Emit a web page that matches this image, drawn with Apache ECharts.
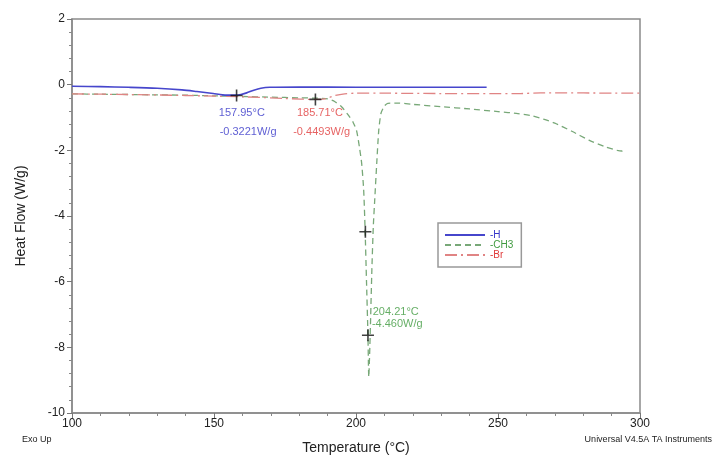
<!DOCTYPE html>
<html><head><meta charset="utf-8">
<script src="https://cdn.jsdelivr.net/npm/echarts@6/dist/echarts.min.js"></script>
<style>html,body{margin:0;padding:0;background:#fff}#c{width:717px;height:470px}</style>
</head><body><div id="c"></div>
<script>
// Data (temperature °C, heat flow W/g)
const seriesNames = ['-H', '-CH3', '-Br'];
const hData = [[100,-0.05],[110,-0.06],[120,-0.08],[130,-0.11],[138.7,-0.16],[144,-0.21],[149.7,-0.27],[153,-0.31],[157.4,-0.32],[159.5,-0.3],[161.5,-0.25],[164,-0.17],[166.5,-0.11],[169.7,-0.08],[180,-0.07],[200,-0.08],[220,-0.08],[246,-0.08]];
const ch3Data = [[100,-0.28],[110,-0.29],[120,-0.3],[130,-0.31],[140,-0.32],[150,-0.34],[160,-0.36],[170,-0.38],[180,-0.4],[186,-0.41],[190,-0.43],[192.6,-0.52],[195,-0.68],[197.5,-0.95],[199,-1.15],[200.2,-1.4],[201.2,-1.9],[202,-2.4],[202.7,-3.2],[203.2,-4.4],[203.7,-6.0],[204.2,-7.6],[204.5,-8.9],[205,-7.6],[205.6,-5.6],[206.1,-4.3],[206.6,-3.5],[207.3,-2.4],[208,-1.4],[208.8,-0.87],[210,-0.65],[211.2,-0.57],[215,-0.56],[220,-0.6],[230,-0.67],[240,-0.74],[250,-0.82],[257,-0.88],[262,-0.95],[266,-1.05],[270,-1.17],[276,-1.42],[282,-1.69],[288,-1.9],[292,-2.0],[293.6,-2.02],[294.5,-1.98]];
const brData = [[100,-0.28],[120,-0.3],[140,-0.33],[160,-0.37],[175,-0.42],[185.7,-0.45],[189,-0.43],[192.7,-0.33],[196,-0.28],[200,-0.26],[210,-0.26],[230,-0.27],[258,-0.27],[265,-0.25],[300,-0.26]];
const crossPoints = [[157.95,-0.33],[185.71,-0.4493],[203.3,-4.48],[204.21,-7.63]];
const yTicks = [-10,-8,-6,-4,-2,0,2];
const xTicks = [100,150,200,250,300];
// annotations: [x, y, text, colorIndex, align]
const annotations = [
  [159.8,-0.87,'157.95°C',0,'center'],
  [162,-1.43,'-0.3221W/g',0,'center'],
  [187.3,-0.87,'185.71°C',2,'center'],
  [187.9,-1.43,'-0.4493W/g',2,'center'],
  [205.9,-6.91,'204.21°C',1,'left'],
  [205.6,-7.29,'-4.460W/g',1,'left']
];
const lineColors = ['#4646cc','#78a878','#e08484'];
const textColors = ['#3434c8','#3f9a3f','#e03a3a'];

const chart = echarts.init(document.getElementById('c'), null, {renderer:'canvas'});
const font = 'Liberation Sans, Arial, sans-serif';
const option = {
  animation:false,
  backgroundColor:'#fff',
  grid:{left:72,right:77,top:19,bottom:57,show:true,borderColor:'#8a8a8a',borderWidth:1.5,backgroundColor:'transparent'},
  xAxis:{type:'value',min:100,max:300,interval:50,
    name:'Temperature (°C)',nameLocation:'middle',nameGap:28,
    nameTextStyle:{fontFamily:font,fontSize:14,color:'#222'},
    axisLine:{show:true,onZero:false,lineStyle:{color:'#8a8a8a',width:1.5}},
    axisTick:{show:true,length:5,lineStyle:{color:'#777'}},
    minorTick:{show:true,splitNumber:5,length:3,lineStyle:{color:'#888'}},
    splitLine:{show:false},
    axisLabel:{fontFamily:font,fontSize:12,color:'#222',margin:5,
      formatter:v=>xTicks.includes(v)?String(v):''}},
  yAxis:{type:'value',min:-10,max:2,interval:2,
    name:'Heat Flow (W/g)',nameLocation:'middle',nameGap:44,
    nameTextStyle:{fontFamily:font,fontSize:14,color:'#222'},
    axisLine:{show:true,onZero:false,lineStyle:{color:'#8a8a8a',width:1.5}},
    axisTick:{show:true,length:5,lineStyle:{color:'#777'}},
    minorTick:{show:true,splitNumber:5,length:3,lineStyle:{color:'#888'}},
    splitLine:{show:false},
    axisLabel:{fontFamily:font,fontSize:12,color:'#222',margin:7,
      formatter:v=>yTicks.includes(v)?String(v):''}},
  legend:{
    orient:'vertical',left:438,top:223,
    padding:[7,8,7,6],itemGap:0,itemWidth:40,itemHeight:9,
    borderColor:'#999',borderWidth:1.5,backgroundColor:'#fff',
    itemStyle:{opacity:0},
    data:seriesNames.map((n,i)=>({name:n,textStyle:{color:textColors[i],fontFamily:font,fontSize:10}}))
  },
  series:[
    {name:seriesNames[0],type:'line',data:hData,showSymbol:false,symbol:'none',smooth:0.3,
      lineStyle:{color:lineColors[0],width:1.6},itemStyle:{color:lineColors[0]},z:3},
    {name:seriesNames[1],type:'line',data:ch3Data,showSymbol:false,symbol:'none',smooth:0.2,
      lineStyle:{color:lineColors[1],width:1.3,type:[6,4]},itemStyle:{color:lineColors[1]},z:2},
    {name:seriesNames[2],type:'line',data:brData,showSymbol:false,symbol:'none',smooth:0.3,
      lineStyle:{color:lineColors[2],width:1.3,type:[12,4,2,4]},itemStyle:{color:lineColors[2]},z:2},
    {type:'scatter',data:crossPoints,symbol:'path://M0,5L10,5M5,0L5,10',symbolSize:12,
      itemStyle:{color:'none',borderColor:'#111',borderWidth:1.6},z:5,silent:true},
    {type:'scatter',data:annotations.map(a=>({value:[a[0],a[1]],label:{show:true,position:'inside',
        formatter:a[2],color:textColors[a[3]],align:a[4],fontFamily:font,fontSize:11}})),
      symbolSize:0,itemStyle:{color:'transparent'},z:6,silent:true}
  ],
  graphic:[
    {type:'text',left:22,top:435,style:{text:'Exo Up',fontFamily:font,fontSize:9,fill:'#222'}},
    {type:'text',right:5,top:435,style:{text:'Universal V4.5A TA Instruments',fontFamily:font,fontSize:9,fill:'#222'}}
  ]
};
chart.setOption(option);
</script></body></html>
